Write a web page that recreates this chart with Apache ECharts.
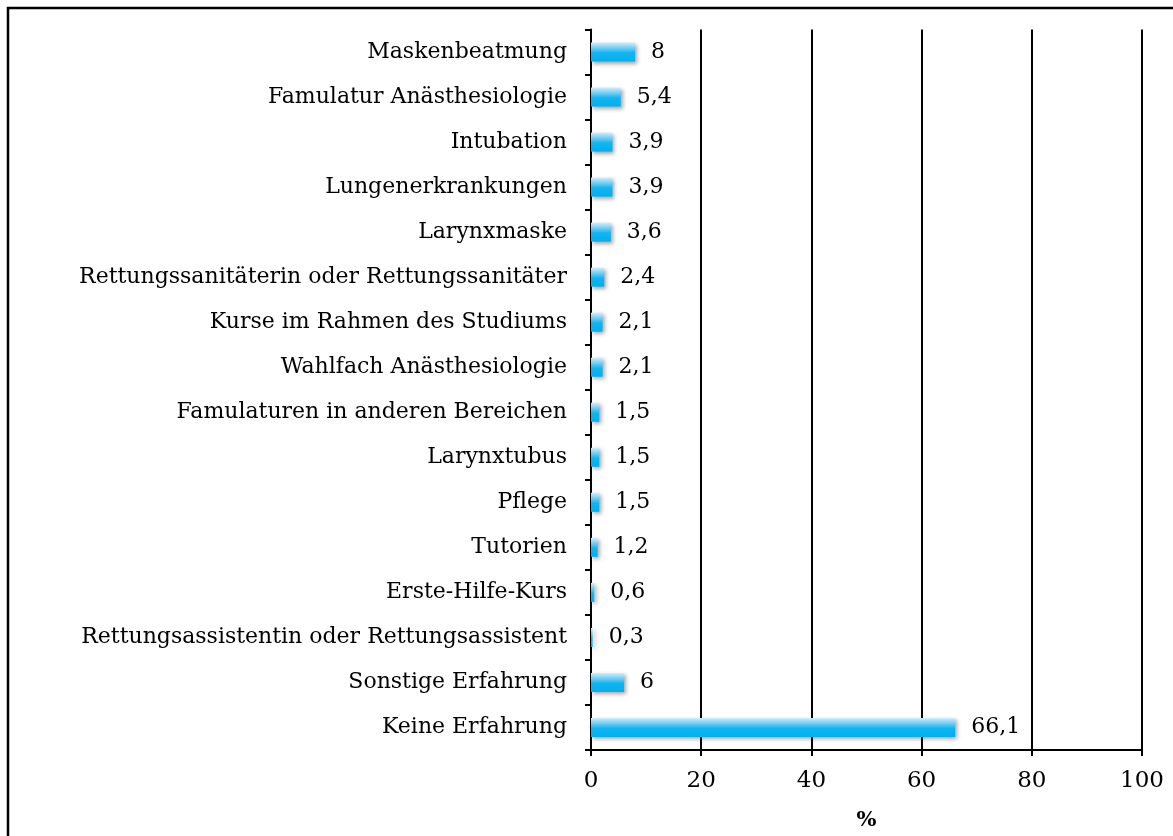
<!DOCTYPE html>
<html>
<head>
<meta charset="utf-8">
<script src="https://cdn.jsdelivr.net/npm/echarts@6/dist/echarts.min.js"></script>
<style>
  html, body { margin: 0; padding: 0; background: #fff; }
  #chart { width: 1173px; height: 836px; }
</style>
</head>
<body>
<div id="chart"></div>
<script>
const categories = [
  'Maskenbeatmung',
  'Famulatur Anästhesiologie',
  'Intubation',
  'Lungenerkrankungen',
  'Larynxmaske',
  'Rettungssanitäterin oder Rettungssanitäter',
  'Kurse im Rahmen des Studiums',
  'Wahlfach Anästhesiologie',
  'Famulaturen in anderen Bereichen',
  'Larynxtubus',
  'Pflege',
  'Tutorien',
  'Erste-Hilfe-Kurs',
  'Rettungsassistentin oder Rettungsassistent',
  'Sonstige Erfahrung',
  'Keine Erfahrung'
];
const values = [8, 5.4, 3.9, 3.9, 3.6, 2.4, 2.1, 2.1, 1.5, 1.5, 1.5, 1.2, 0.6, 0.3, 6, 66.1];
const xTicks = [0, 20, 40, 60, 80, 100];

const font = '"DejaVu Serif", "Liberation Serif", serif';
const chart = echarts.init(document.getElementById('chart'));

chart.setOption({
  animation: false,
  backgroundColor: '#fff',
  textStyle: { fontFamily: font },
  graphic: [{
    type: 'rect',
    shape: { x: 8, y: 8, width: 1300, height: 1000 },
    style: { fill: 'none', stroke: '#000', lineWidth: 2.5 }
  }],
  grid: {
    left: 591,
    right: 31,
    top: 29.5,
    bottom: 86
  },
  xAxis: {
    type: 'value',
    min: xTicks[0],
    max: xTicks[xTicks.length - 1],
    interval: 20,
    name: '%',
    nameLocation: 'middle',
    nameGap: 60,
    nameTextStyle: { fontFamily: font, fontSize: 21, fontWeight: 'bold', color: '#000' },
    axisLine: { show: true, lineStyle: { color: '#000', width: 2 } },
    axisTick: { show: true, length: 6, lineStyle: { color: '#000', width: 2 } },
    axisLabel: { fontFamily: font, fontSize: 23, color: '#000', margin: 20 },
    splitLine: { show: true, lineStyle: { color: '#000', width: 2 } }
  },
  yAxis: {
    type: 'category',
    inverse: true,
    data: categories,
    axisLine: { show: true, lineStyle: { color: '#000', width: 2 } },
    axisTick: { show: true, length: 6, lineStyle: { color: '#000', width: 2 } },
    axisLabel: { fontFamily: font, fontSize: 22, color: '#000', margin: 24 }
  },
  series: [{
    type: 'bar',
    data: values,
    barWidth: 19,
    itemStyle: {
      color: new echarts.graphic.LinearGradient(0, 0, 0, 1, [
        { offset: 0, color: '#d6ecf9' },
        { offset: 0.55, color: '#12b4ef' },
        { offset: 1, color: '#00b0f0' }
      ]),
      shadowColor: 'rgba(0,0,0,0.35)',
      shadowBlur: 4,
      shadowOffsetX: 2,
      shadowOffsetY: 2
    },
    label: {
      show: true,
      position: 'right',
      distance: 16,
      fontFamily: font,
      fontSize: 22,
      color: '#000',
      formatter: p => String(p.value).replace('.', ',')
    }
  }]
});
</script>
</body>
</html>
